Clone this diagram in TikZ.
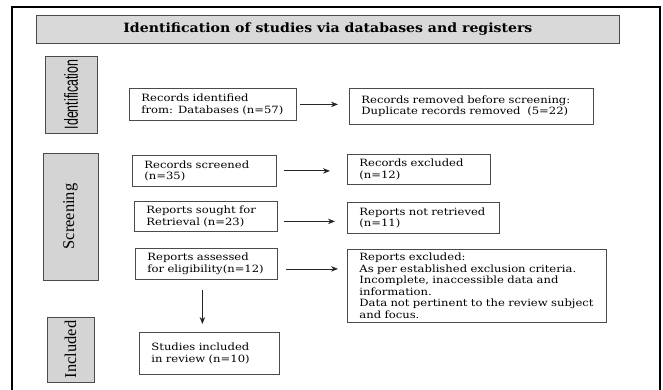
\documentclass[tikz,border=0pt]{standalone}
\usepackage{fontspec}
\usetikzlibrary{arrows.meta}
\setmainfont{DejaVu Serif}
\newfontfamily\boxfont[FakeStretch=1.16]{DejaVu Serif}
\newfontfamily\headfont[FakeStretch=1.1]{DejaVu Serif}
\newfontfamily\labsans{Liberation Sans}
\newfontfamily\labserif{Liberation Serif}
\definecolor{boxline}{HTML}{4A4A4A}
\definecolor{labfill}{HTML}{D4D4D4}
\definecolor{headfill}{HTML}{D9D9D9}
\begin{document}
\begin{tikzpicture}[x=1pt,y=-1pt,
  bx/.style={draw=boxline, line width=0.8pt, fill=white, anchor=north west,
    inner xsep=12pt, inner ysep=0pt, align=left,
    font=\boxfont\fontsize{10}{11.5}\selectfont},
  lab/.style={draw=boxline, line width=0.8pt, fill=labfill, rotate=90, inner sep=0pt},
  arr/.style={draw=black!85, line width=0.8pt, -{Stealth[length=7pt,width=5.5pt]}}
]
\useasboundingbox (0,0) rectangle (663,390);
% outer frame
\draw[line width=2.4pt] (12,392) -- (12,7) -- (660,7) -- (660,392);
% header
\node[draw=boxline, line width=0.8pt, fill=headfill, anchor=north west,
  minimum width=583pt, minimum height=28pt, inner sep=0pt,
  font=\headfont\bfseries\fontsize{12.8}{14}\selectfont] (head) at (36,15)
  {Identification of studies via databases and registers};
% side labels
\node[lab, minimum width=77pt, minimum height=52pt,
  font=\labsans\fontsize{19}{21}\selectfont] (lid) at (71,94.5) {\scalebox{0.65}[1]{Identification}};
\node[lab, minimum width=127pt, minimum height=55pt,
  font=\labserif\fontsize{16.5}{18}\selectfont] (lscr) at (70.5,216.5) {Screening};
\node[lab, minimum width=65pt, minimum height=47pt,
  font=\labserif\fontsize{16.5}{18}\selectfont] (linc) at (70.5,349.5) {Included};
% boxes
\node[bx, text width=143pt, minimum height=32pt] (rid) at (129,88)
  {Records identified\\from: Databases (n=57)};
\node[bx, text width=220pt, minimum height=36pt] (rrem) at (349,88)
  {Records removed before screening:\\Duplicate records removed\ \ (5=22)};
\node[bx, text width=120pt, minimum height=31pt] (rscr) at (132,155)
  {Records screened\\(n=35)};
\node[bx, text width=119pt, minimum height=30pt] (rexc) at (347,154)
  {Records excluded\\(n=12)};
\node[bx, text width=119pt, minimum height=30pt] (rsou) at (134,201)
  {Reports sought for\\Retrieval (n=23)};
\node[bx, text width=128pt, minimum height=31pt] (rnot) at (347,202)
  {Reports not retrieved\\(n=11)};
\node[bx, text width=118pt, minimum height=31pt] (rass) at (135,248)
  {Reports assessed\\for eligibility(n=12)};
\node[bx, text width=235pt, minimum height=73pt] (rexl) at (347,249)
  {Reports excluded:\\As per established exclusion criteria.\\Incomplete, inaccessible data and\\information.\\Data not pertinent to the review subject\\and focus.};
\node[bx, text width=116pt, minimum height=42pt] (sinc) at (139,332)
  {Studies included\\in review (n=10)\\[4pt]};
% arrows
\draw[arr, shorten <=3pt, shorten >=11pt] (rid.east) -- (rid.east -| rrem.west);
\draw[arr, shorten <=7pt, shorten >=17pt] (rscr.east) -- (rscr.east -| rexc.west);
\draw[arr, shorten <=6pt, shorten >=12pt] ([yshift=-5pt]rsou.east) -- ([yshift=-5pt]rsou.east -| rnot.west);
\draw[arr, shorten <=8pt, shorten >=9pt] ([yshift=-5pt]rass.east) -- ([yshift=-5pt]rass.east -| rexl.west);
\draw[arr, shorten <=10pt, shorten >=8pt] ([xshift=-4pt]rass.south) -- ([xshift=-4pt]rass.south |- sinc.north);
\end{tikzpicture}
\end{document}
